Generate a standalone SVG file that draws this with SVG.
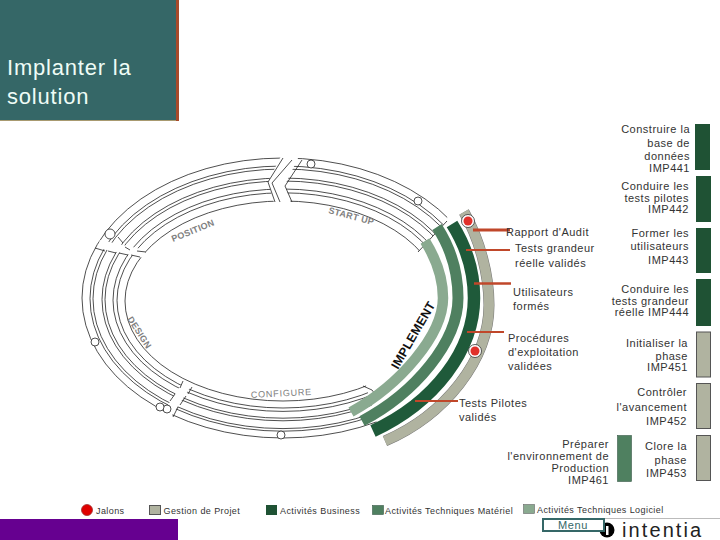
<svg xmlns="http://www.w3.org/2000/svg" width="720" height="540" viewBox="0 0 720 540">
<style>
text{font-family:"Liberation Sans",Arial,sans-serif;fill:#333;font-size:11px;letter-spacing:.5px}
.r{text-anchor:end}
.leg{font-size:9px;letter-spacing:.42px}
.ph{font-size:9px;fill:#808080;letter-spacing:.3px;font-weight:bold}
.ring{fill:none;stroke:#222;stroke-width:.8}
.cap{fill:none;stroke:#222;stroke-width:.8}
.o{fill:#fff;stroke:#222;stroke-width:.8}
.dk{fill:#1f5234}
.gy{fill:#b0b3a0;stroke:#555;stroke-width:1}
.md{fill:#4f8060;stroke:#3a5a48;stroke-width:.6}
.lt{fill:#8aaa90;stroke:#666;stroke-width:.6}
.rl{stroke:#c0472a;fill:none}
</style>
<defs>
<clipPath id="wedge"><polygon points="0,0 460,0 447,221 418,252 380,300 366,386 385,450 385,540 0,540"/></clipPath>
</defs>

<g id="header">
<rect x="0" y="0" width="176" height="120" fill="#356767"/>
<rect x="176" y="0" width="3" height="121" fill="#a84a2a"/>
<rect x="0" y="120" width="176" height="1" fill="#a89a70"/>
<text x="7" y="75" style="font-size:22px;fill:#eefcf6;letter-spacing:.8px">Implanter la</text>
<text x="7" y="104" style="font-size:22px;fill:#eefcf6;letter-spacing:.8px">solution</text>
</g>

<g id="rings" clip-path="url(#wedge)">
<ellipse class="ring" cx="283" cy="298" rx="201" ry="140"/>
<ellipse class="ring" cx="283" cy="298.6" rx="193" ry="132.6"/>
<ellipse class="ring" cx="283" cy="298.8" rx="190" ry="129.8"/>
<ellipse class="ring" cx="283" cy="299.4" rx="181" ry="121.4"/>
<ellipse class="ring" cx="283" cy="299.6" rx="178" ry="118.6"/>
<ellipse class="ring" cx="283" cy="300.2" rx="170" ry="111.2"/>
<ellipse class="ring" cx="283" cy="300.4" rx="166" ry="107.6"/>
<ellipse class="ring" cx="283" cy="301" rx="158" ry="100"/>
</g>

<g id="connectors">
<polygon points="283,152 268,182 275,206 292,206 285,185 301,152" fill="#fff"/>
<path d="M99 244L145 254" stroke="#fff" stroke-width="8" fill="none"/>
<path d="M187 384L166 416" stroke="#fff" stroke-width="9" fill="none"/>
<path class="cap" d="M283 158L268 182L275 202"/>
<path class="cap" d="M292 160L272 183L280 202"/>
<path class="cap" d="M302 160L285 186L292 202"/>
<path class="cap" d="M118 237L123 243M125 247L130 250M137 251L146 252"/>
<path class="cap" d="M95 248L105 251M108 251L116 253M119 253L128 255M131 255L140 257"/>
<path class="cap" d="M183 381L180 388M175 394L170 401"/>
<path class="cap" d="M192 387L188 394M186 396L180 405M178 407L173 417"/>
<path class="cap" d="M447 221L418 252"/>
<path class="cap" d="M363 386L372 390L378 398"/>
</g>

<g id="ring-markers">
<circle class="o" cx="311" cy="164" r="4"/>
<circle class="o" cx="418" cy="201" r="4"/>
<circle class="o" cx="110" cy="234" r="5"/>
<circle class="o" cx="95" cy="342" r="4"/>
<circle class="o" cx="167" cy="409" r="4"/>
<circle class="o" cx="160" cy="407" r="4"/>
<circle class="o" cx="281" cy="435" r="4"/>
</g>

<g id="phases">
<text class="ph" x="0" y="0" transform="translate(173,242) rotate(-22)">POSITION</text>
<text class="ph" x="0" y="0" transform="translate(328,213) rotate(15)">START UP</text>
<text class="ph" x="0" y="0" transform="translate(127,319) rotate(57)">DESIGN</text>
<text class="ph" x="0" y="0" transform="translate(251,398) rotate(-3)" style="font-weight:normal;letter-spacing:.8px">CONFIGURE</text>
<text x="0" y="0" transform="translate(398,370) rotate(-60)" style="font-size:12.5px;font-weight:bold;fill:#111;letter-spacing:.2px">IMPLEMENT</text>
</g>

<g id="bands" fill="none">
<path d="M464 212C480 240 489 275 489 305C489 360 445 415 385 441" stroke="#777" stroke-width="11"/>
<path d="M464 212C480 240 489 275 489 305C489 360 445 415 385 441" stroke="#b0b3a0" stroke-width="10"/>
<path d="M452 224C466 246 474 272 474 298C474 350 435 402 373 431" stroke="#1f5a3a" stroke-width="12.5"/>
<path d="M437 227C450 247 458 272 458 298C458 342 415 393 362 421" stroke="#4f8060" stroke-width="11"/>
<path d="M425 241C435 257 443 278 443 298C443 335 400 385 351 412" stroke="#8aaa90" stroke-width="10.5"/>
</g>

<g id="deliverable-lines">
<path class="rl" stroke-width="3" d="M473 230H510"/>
<path class="rl" stroke-width="2" d="M466 250H510"/>
<path class="rl" stroke-width="2.5" d="M474 283.500H511"/>
<path class="rl" stroke-width="2" d="M467 332H504"/>
<path class="rl" stroke-width="2" d="M415 401H458"/>
</g>

<g id="milestones">
<circle cx="468" cy="221" r="6.500" fill="#fff" stroke="#333" stroke-width=".8"/>
<circle cx="468" cy="221" r="4.500" fill="#e0302a"/>
<circle cx="475" cy="351" r="6.500" fill="#fff" stroke="#333" stroke-width=".8"/>
<circle cx="475" cy="351" r="4.500" fill="#e0302a"/>
</g>

<g id="deliverables">
<text x="506" y="236">Rapport d'Audit</text>
<text x="515" y="252">Tests grandeur</text>
<text x="515" y="267">réelle validés</text>
<text x="513" y="296">Utilisateurs</text>
<text x="513" y="310">formés</text>
<text x="508" y="342">Procédures</text>
<text x="508" y="356">d'exploitation</text>
<text x="508" y="370">validées</text>
<text x="459" y="407">Tests Pilotes</text>
<text x="459" y="421">validés</text>
</g>

<g id="IMP441"><text class="r" x="690" y="133">Construire la</text><text class="r" x="690" y="147">base de</text><text class="r" x="690" y="160">données</text><text class="r" x="690" y="172">IMP441</text><rect class="dk" x="695" y="124" width="15" height="46"/></g>
<g id="IMP442"><text class="r" x="689" y="190">Conduire les</text><text class="r" x="689" y="202">tests pilotes</text><text class="r" x="689" y="213">IMP442</text><rect class="dk" x="696" y="176" width="15" height="46"/></g>
<g id="IMP443"><text class="r" x="689" y="237">Former les</text><text class="r" x="689" y="250">utilisateurs</text><text class="r" x="689" y="264">IMP443</text><rect class="dk" x="696" y="228" width="15" height="45"/></g>
<g id="IMP444"><text class="r" x="689" y="293">Conduire les</text><text class="r" x="689" y="305">tests grandeur</text><text class="r" x="689" y="316">réelle IMP444</text><rect class="dk" x="696" y="279" width="15" height="47"/></g>
<g id="IMP451"><text class="r" x="688" y="347">Initialiser la</text><text class="r" x="688" y="360">phase</text><text class="r" x="688" y="371">IMP451</text><rect class="gy" x="696.500" y="332" width="14" height="45"/></g>
<g id="IMP452"><text class="r" x="687" y="396">Contrôler</text><text class="r" x="687" y="411">l'avancement</text><text class="r" x="687" y="425">IMP452</text><rect class="gy" x="696.500" y="383.500" width="14" height="45"/></g>
<g id="IMP453"><text class="r" x="687" y="450">Clore la</text><text class="r" x="687" y="464">phase</text><text class="r" x="687" y="477">IMP453</text><rect class="gy" x="696.500" y="435.500" width="14" height="45"/></g>
<g id="IMP461"><text class="r" x="609" y="448">Préparer</text><text class="r" x="609" y="460">l'environnement de</text><text class="r" x="609" y="472">Production</text><text class="r" x="609" y="484">IMP461</text><rect class="md" x="617.500" y="435.500" width="14" height="46"/></g>

<g id="legend">
<circle cx="87" cy="510" r="5.500" fill="#e00000" stroke="#a03030" stroke-width=".8"/>
<text class="leg" x="96" y="514">Jalons</text>
<rect class="gy" x="149.500" y="505.500" width="11" height="9"/>
<text class="leg" x="163.500" y="514">Gestion de Projet</text>
<rect class="dk" x="266" y="505" width="11" height="10"/>
<text class="leg" x="280" y="514">Activités Business</text>
<rect class="md" x="372.500" y="505.500" width="11" height="9"/>
<text class="leg" x="385" y="514">Activités Techniques Matériel</text>
<rect class="lt" x="523.500" y="504.500" width="11" height="9"/>
<text class="leg" x="537" y="513">Activités Techniques Logiciel</text>
</g>

<g id="footer">
<rect x="0" y="519" width="178" height="21" fill="#660090"/>
<line x1="604" y1="518.500" x2="720" y2="518.500" stroke="#bbb"/>
<circle cx="607" cy="530" r="7.500" fill="#000"/>
<rect x="606" y="526" width="2.500" height="9" fill="#fff"/>
<text x="622" y="537" style="font-size:20px;fill:#222;letter-spacing:2.100px">intentia</text>
</g>
<g id="menu">
<rect x="543" y="519" width="61" height="12" fill="#fff" stroke="#356767" stroke-width="2"/>
<text x="573" y="529" text-anchor="middle" style="fill:#356767;font-size:11px;letter-spacing:.6px">Menu</text>
</g>
</svg>
